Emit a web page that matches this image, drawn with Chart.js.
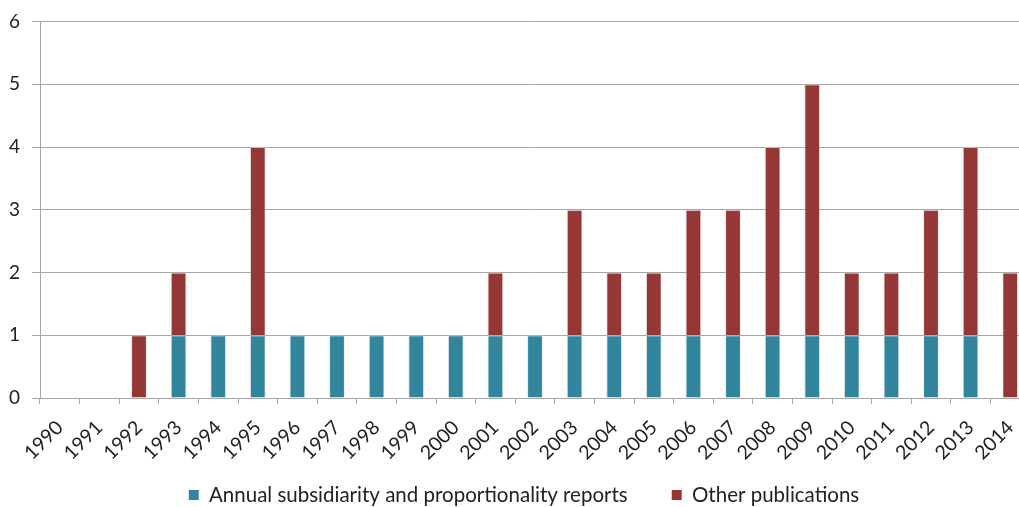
<!DOCTYPE html>
<html>
<head>
<meta charset="utf-8">
<script src="https://cdn.jsdelivr.net/npm/chart.js@4"></script>
<style>
html,body{margin:0;padding:0;background:#fff;overflow:hidden;}
#wrap{width:1040px;height:507px;position:relative;}
</style>
</head>
<body>
<div id="wrap"><canvas id="c"></canvas></div>
<script>
const years = ["1990","1991","1992","1993","1994","1995","1996","1997","1998","1999","2000","2001","2002","2003","2004","2005","2006","2007","2008","2009","2010","2011","2012","2013","2014"];
const annualReports = [0,0,0,1,1,1,1,1,1,1,1,1,1,1,1,1,1,1,1,1,1,1,1,1,0];
const otherPublications = [0,0,1,1,0,3,0,0,0,0,0,1,0,2,1,1,2,2,3,4,1,1,2,3,2];
const yTicks = [0,1,2,3,4,5,6];

const FONT = "Lato, 'Noto Sans', sans-serif";
const LEGEND_PAD = 44;
const LEGEND_FONT = 20.5;

const legendPlacePlugin = {
  id: 'legendPlace',
  afterInit(chart) {
    const lg = chart.legend;
    if (!lg) return;
    const orig = lg.fit.bind(lg);
    lg.fit = function() {
      orig();
      this.height = 47;
    };
  },
  afterLayout(chart) {
    const lg = chart.legend;
    if (!lg) return;
    const top = 495 - LEGEND_FONT / 2 - LEGEND_PAD;
    lg.top = top;
    lg.bottom = chart.height;
    lg.height = lg.bottom - top;
    lg.left += 9;
    lg.right += 9;
  }
};

new Chart(document.getElementById('c'), {
  type: 'bar',
  data: {
    labels: years,
    datasets: [
      {label: 'Annual subsidiarity and proportionality reports', data: annualReports, backgroundColor: '#31859C', borderColor: 'rgba(210,210,210,0.5)', borderWidth: 1, barPercentage: 0.4, categoryPercentage: 1.0},
      {label: 'Other publications', data: otherPublications, backgroundColor: '#953735', borderColor: 'rgba(210,210,210,0.5)', borderWidth: 1, barPercentage: 0.4, categoryPercentage: 1.0}
    ]
  },
  plugins: [legendPlacePlugin],
  options: {
    responsive: true,
    maintainAspectRatio: false,
    animation: false,
    layout: {padding: {top: 20, right: 10, left: 0, bottom: 0}},
    plugins: {
      tooltip: {enabled: false},
      legend: {
        position: 'bottom',
        labels: {boxWidth: 10, boxHeight: 10, padding: LEGEND_PAD, color: '#222', font: {family: FONT, size: LEGEND_FONT},
          generateLabels: (chart) => Chart.defaults.plugins.legend.labels.generateLabels(chart).map(it => Object.assign(it, {lineWidth: 0}))}
      }
    },
    scales: {
      x: {
        stacked: true,
        offset: true,
        grid: {offset: true, drawOnChartArea: false, drawTicks: true, tickLength: 6, color: '#a6a6a6'},
        border: {color: '#a6a6a6'},
        ticks: {minRotation: 45, maxRotation: 45, color: '#222', font: {family: FONT, size: 19.5}, padding: 12},
        afterFit: s => { s.height = 62; }
      },
      y: {
        stacked: true,
        min: 0, max: 6,
        afterBuildTicks: s => { s.ticks = yTicks.map(v => ({value: v})); },
        grid: {color: '#a6a6a6', tickLength: 8},
        border: {color: '#a6a6a6'},
        ticks: {color: '#222', font: {family: FONT, size: 19, lineHeight: 1}, padding: 12},
        afterFit: s => { s.width = 40; }
      }
    }
  }
});
</script>
</body>
</html>
